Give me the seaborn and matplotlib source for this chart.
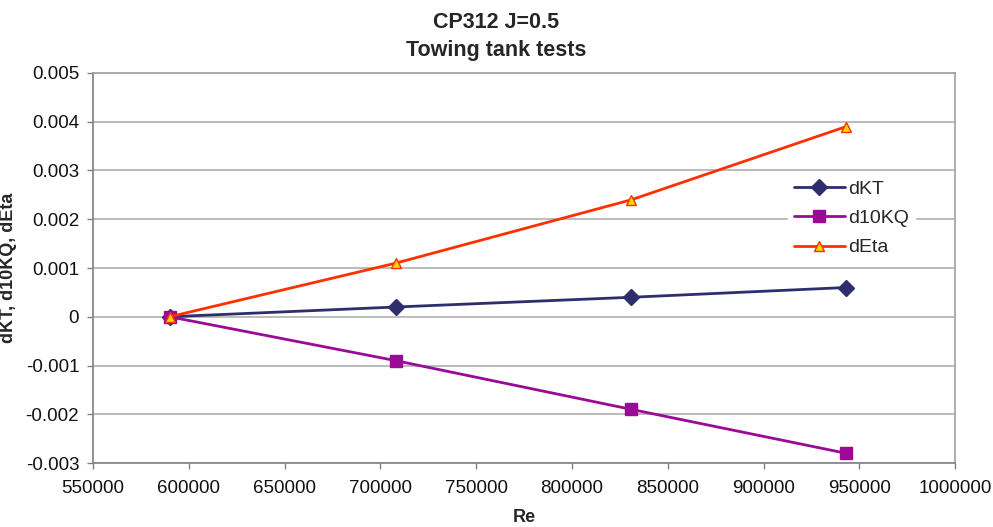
import numpy as np
import pandas as pd
import seaborn as sns
import matplotlib
matplotlib.use("Agg")
import matplotlib.pyplot as plt

re_vals = [590000, 708000, 831000, 943000]
dKT = [0.0, 0.0002, 0.0004, 0.0006]
d10KQ = [0.0, -0.0009, -0.0019, -0.0028]
dEta = [0.0, 0.0011, 0.0024, 0.0039]
series_names = ["dKT", "d10KQ", "dEta"]
x_ticks = [550000, 600000, 650000, 700000, 750000, 800000, 850000, 900000, 950000, 1000000]
y_ticks = [-0.003, -0.002, -0.001, 0.0, 0.001, 0.002, 0.003, 0.004, 0.005]
y_tick_labels = ["-0.003", "-0.002", "-0.001", "0", "0.001", "0.002", "0.003", "0.004", "0.005"]

sns.set_style("white")
plt.rcParams['font.family'] = ['Liberation Sans', 'DejaVu Sans']

fig = plt.figure(figsize=(9.93, 5.27), dpi=100)
ax = fig.add_axes([0.0937, 0.1214, 0.8683, 0.7401])

styles = {
    "dKT": dict(color="#2E2D6E", marker="D", markersize=8, mfc="#2E2D6E", mec="#2E2D6E"),
    "d10KQ": dict(color="#9A0A96", marker="s", markersize=9, mfc="#9A0A96", mec="#9A0A96"),
    "dEta": dict(color="#FF3000", marker="^", markersize=7, mfc="#FFD200", mec="#FF3000"),
}
data = {"dKT": dKT, "d10KQ": d10KQ, "dEta": dEta}
for name in series_names:
    st = styles[name]
    df = pd.DataFrame({"Re": re_vals, "v": data[name]})
    sns.lineplot(data=df, x="Re", y="v", ax=ax, color=st["color"], linewidth=2,
                 marker=st["marker"], markersize=st["markersize"],
                 markerfacecolor=st["mfc"], markeredgecolor=st["mec"],
                 markeredgewidth=1, label=name, zorder=3)

ax.set_xlim(550000, 1000000)
ax.set_ylim(-0.003, 0.005)
ax.set_xticks(x_ticks)
ax.set_xticklabels([str(v) for v in x_ticks])
ax.set_yticks(y_ticks)
ax.set_yticklabels(y_tick_labels)
ax.yaxis.grid(True, color="#B0B0B0", linewidth=1.2)
ax.xaxis.grid(False)
for sp in ax.spines.values():
    sp.set_color("#A0A0A0")
    sp.set_linewidth(1.2)
ax.spines["left"].set_color("#808080")
ax.spines["bottom"].set_color("#808080")
ax.tick_params(axis="both", which="major", direction="out", length=4, width=1,
               color="#808080", labelsize=13.5, bottom=True, left=True, labelcolor="#111111")
ax.tick_params(axis="x", pad=8)
ax.tick_params(axis="y", pad=6)

ax.set_xlabel("Re", fontsize=13, fontweight="bold", labelpad=9)
ax.set_ylabel("dKT, d10KQ, dEta", fontsize=13, fontweight="bold", labelpad=6)
fig.suptitle("CP312 J=0.5\nTowing tank tests", fontsize=15.5, fontweight="bold", y=0.978,
             linespacing=1.45)

leg = ax.legend(loc="upper left", bbox_to_anchor=(0.795, 0.765), frameon=True,
                fontsize=14, handlelength=2.6, borderpad=0.3, labelspacing=0.6,
                handletextpad=0.2)
leg.get_frame().set_edgecolor("white")
leg.get_frame().set_facecolor("white")
leg.get_frame().set_alpha(1)

fig.savefig("out.png", dpi=100)
